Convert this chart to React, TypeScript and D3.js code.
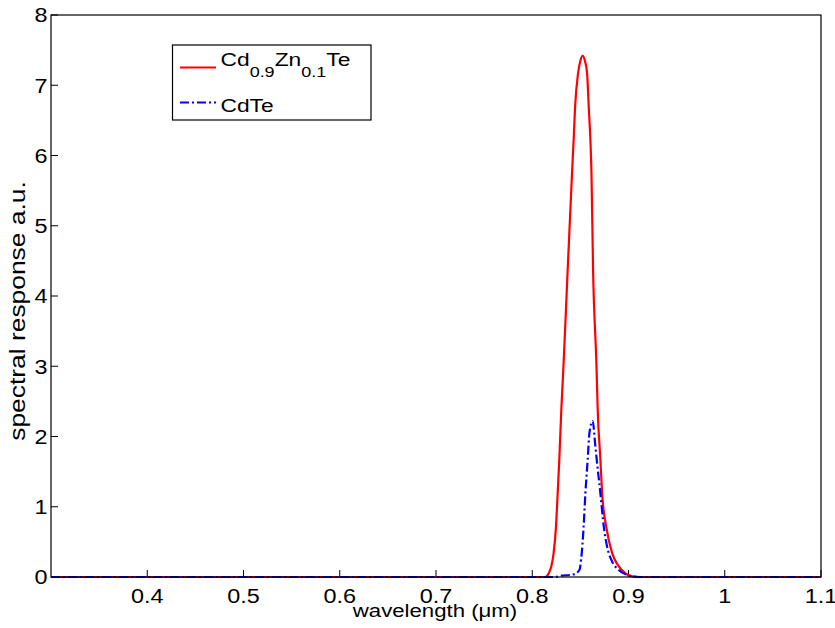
import React from "react";
import * as d3 from "d3";

const xTicks = [0.4, 0.5, 0.6, 0.7, 0.8, 0.9, 1, 1.1];
const yTicks = [0, 1, 2, 3, 4, 5, 6, 7, 8];

const czWave = [0.3, 0.8135, 0.817, 0.8198, 0.8222, 0.8247, 0.8264, 0.8281, 0.8302, 0.8326, 0.8368, 0.8414, 0.843, 0.8445, 0.8476, 0.85, 0.8524, 0.8547, 0.857, 0.8587, 0.8604, 0.8615, 0.8632, 0.8667, 0.868, 0.8708, 0.8726, 0.8768, 0.883, 0.8899, 0.8969, 0.9039, 0.9125, 1.1];
const czResp = [0, 0, 0.05, 0.15, 0.34, 0.72, 1.19, 1.67, 2.38, 3.05, 4.37, 5.77, 6.22, 6.69, 7.17, 7.35, 7.42, 7.35, 7.17, 6.69, 6.22, 5.77, 4.37, 3.02, 2.38, 1.67, 1.19, 0.72, 0.34, 0.15, 0.05, 0.01, 0, 0];

const cdWave = [0.3, 0.824, 0.83, 0.84, 0.8435, 0.849, 0.8507, 0.8534, 0.8552, 0.8576, 0.8594, 0.8628, 0.8653, 0.867, 0.8708, 0.8743, 0.8778, 0.8823, 0.8899, 0.8986, 0.91, 1.1];
const cdResp = [0, 0, 0.02, 0.03, 0.04, 0.1, 0.24, 0.72, 1.19, 1.67, 2.05, 2.22, 1.9, 1.67, 1.19, 0.72, 0.43, 0.24, 0.1, 0.03, 0, 0];

const W = 835;
const H = 628;
const L = 51, R = 821, T = 15, B = 577;
const FONT = "'Liberation Sans', Arial, Helvetica, sans-serif";
const SX = 1.2;

function Txt(props: {
  x: number;
  y: number;
  size: number;
  anchor?: string;
  sx?: number;
  rotate?: number;
  children: React.ReactNode;
}) {
  const { x, y, size, anchor = "start", sx = SX, rotate = 0, children } = props;
  return (
    <text
      transform={`translate(${x},${y}) rotate(${rotate}) scale(${sx},1)`}
      fontSize={size}
      textAnchor={anchor}
      fill="#000"
    >
      {children}
    </text>
  );
}

export default function App() {
  const x = d3.scaleLinear().domain([0.3, 1.1]).range([L, R]);
  const y = d3.scaleLinear().domain([0, 8]).range([B, T]);
  const line = d3
    .line<[number, number]>()
    .x((d) => x(d[0]))
    .y((d) => y(d[1]))
    .curve(d3.curveMonotoneX);
  const cz = czWave.map((w, i) => [w, czResp[i]] as [number, number]);
  const cd = cdWave.map((w, i) => [w, cdResp[i]] as [number, number]);

  return (
    <svg
      width={W}
      height={H}
      style={{ position: "absolute", left: 0, top: 0, background: "#fff" }}
      fontFamily={FONT}
    >
      <rect x={0} y={0} width={W} height={H} fill="#fff" />
      {xTicks.map((t) => (
        <g key={"x" + t}>
          <line x1={x(t)} x2={x(t)} y1={B} y2={B - 7} stroke="#000" strokeWidth={1} />
          <Txt x={x(t)} y={603} size={19.5} anchor="middle">
            {String(t)}
          </Txt>
        </g>
      ))}
      {yTicks.map((t) => (
        <g key={"y" + t}>
          <line x1={L} x2={L + 7} y1={y(t)} y2={y(t)} stroke="#000" strokeWidth={1} />
          <Txt x={47.5} y={y(t) + 7.3} size={19.5} anchor="end">
            {String(t)}
          </Txt>
        </g>
      ))}
      <path d={line(cz) || ""} fill="none" stroke="#ff0000" strokeWidth={2.2} />
      <path
        d={line(cd) || ""}
        fill="none"
        stroke="#0000ff"
        strokeWidth={2.2}
        strokeDasharray="9,3,2,3"
      />
      <rect x={L} y={T} width={R - L} height={B - T} fill="none" stroke="#000" strokeWidth={1.2} />
      <Txt x={435} y={616.5} size={18.5} anchor="middle">
        wavelength (μm)
      </Txt>
      <Txt x={25} y={311} size={22} anchor="middle" rotate={-90} sx={1.2}>
        spectral response a.u.
      </Txt>
      <g>
        <rect x={172.5} y={45} width={198.5} height={75} fill="#fff" stroke="#000" strokeWidth={1.2} />
        <line x1={180} x2={216} y1={67.5} y2={67.5} stroke="#ff0000" strokeWidth={2.2} />
        <Txt x={220.5} y={66} size={19}>
          Cd
          <tspan fontSize={15} dy={11}>0.9</tspan>
          <tspan fontSize={19} dy={-11}>Zn</tspan>
          <tspan fontSize={15} dy={11}>0.1</tspan>
          <tspan fontSize={19} dy={-11}>Te</tspan>
        </Txt>
        <line
          x1={180}
          x2={216}
          y1={102.5}
          y2={102.5}
          stroke="#0000ff"
          strokeWidth={2.2}
          strokeDasharray="9,3,2,3"
        />
        <Txt x={220.5} y={111.5} size={19}>
          CdTe
        </Txt>
      </g>
    </svg>
  );
}
